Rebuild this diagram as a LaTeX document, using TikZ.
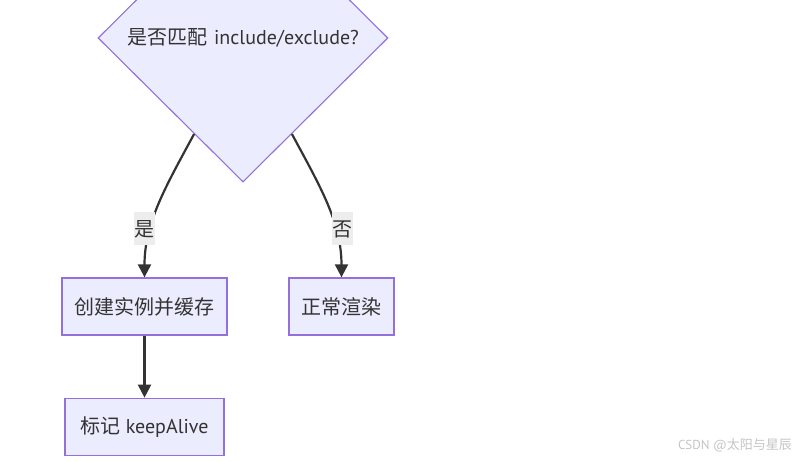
\documentclass[tikz,border=0pt]{standalone}
\usepackage{fontspec}
\setmainfont{PT Sans}
\newfontfamily\cjk{Noto Sans CJK SC}
\usetikzlibrary{arrows.meta,positioning,shapes.geometric}
\definecolor{boxfill}{HTML}{ECECFF}
\definecolor{boxline}{HTML}{9370DB}
\definecolor{edgeline}{HTML}{333333}
\definecolor{lblfill}{HTML}{EDEDED}
\definecolor{marktext}{HTML}{C4C4C4}

\begin{document}
\begin{tikzpicture}[x=1pt,y=-1pt,>={Triangle[length=13pt,width=13pt]},
  box/.style={draw=boxline,fill=boxfill,line width=1.3pt,minimum height=57pt,inner sep=0pt,
    text=edgeline,font=\fontsize{20}{24}\selectfont},
  decision/.style={diamond,draw=boxline,fill=boxfill,line width=1.1pt,minimum width=290pt,
    minimum height=288pt,inner sep=0pt,text=edgeline,font=\fontsize{20}{24}\selectfont},
  edge/.style={draw=edgeline,line width=2.2pt,->},
  lbl/.style={fill=lblfill,inner sep=0pt,minimum width=21pt,minimum height=33pt,
    text=edgeline,font=\fontsize{20}{24}\selectfont\cjk}]
\useasboundingbox (0,0) rectangle (812,462);
\clip (0,0) rectangle (812,462);

\node[decision] (match) at (243,38) {{\cjk 是否匹配}\hspace{7pt}include/exclude?};
\node[box,minimum width=165pt] (cache) at (144.5,306.5) {\cjk 创建实例并缓存};
\node[box,minimum width=105pt] (render) at (341.5,306.5) {\cjk 正常渲染};
\node[box,minimum width=159pt,below=62pt of cache] (mark) {{\cjk 标记} keepAlive};

\draw[edge] (match.-117) .. controls +(-28,52) and +(0,-55) .. (cache.north);
\draw[edge] (match.-63) .. controls +(28,52) and +(0,-55) .. (render.north);
\draw[edge] (cache) -- (mark);

\node[lbl] (yes) at (144,229) {是};
\node[lbl] (no) at (342,229) {否};

\node[text=marktext,font=\fontsize{13}{15}\selectfont] (wm) at (735,445) {CSDN @{\cjk 太阳与星辰}};
\end{tikzpicture}
\end{document}
